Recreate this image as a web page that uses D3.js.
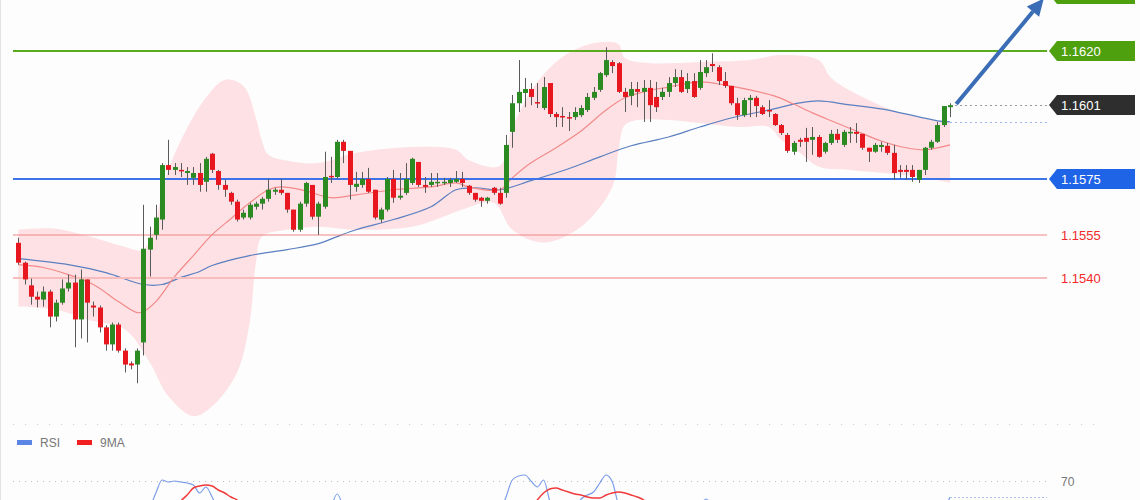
<!DOCTYPE html>
<html>
<head>
<meta charset="utf-8">
<title>EURUSD</title>
<script src="https://d3js.org/d3.v7.min.js"></script>
<style>
  body { margin: 0; background: #fdfdfd; }
  svg { display: block; font-family: "Liberation Sans", Arial, sans-serif; }
</style>
</head>
<body>
<div id="chart"></div>
<script>
// candles, index 0..149
const open = [1.15524,1.15454,1.15374,1.15334,1.15324,1.15352,1.15264,1.15313,1.15363,1.15384,
  1.15254,1.15395,1.15303,1.15296,1.15226,1.15166,1.15236,1.15144,1.15099,1.15095,
  1.15173,1.15500,1.15552,1.15606,1.15798,1.15781,1.15781,1.15770,1.15753,1.15770,
  1.15739,1.15838,1.15777,1.15728,1.15700,1.15669,1.15613,1.15613,1.15651,1.15662,
  1.15679,1.15704,1.15711,1.15700,1.15641,1.15570,1.15662,1.15728,1.15616,1.15651,
  1.15760,1.15756,1.15880,1.15848,1.15721,1.15728,1.15749,1.15711,1.15606,1.15641,
  1.15749,1.15683,1.15700,1.15735,1.15809,1.15728,1.15728,1.15735,1.15735,1.15735,
  1.15739,1.15749,1.15725,1.15700,1.15683,1.15672,1.15718,1.15700,1.15700,1.15915,
  1.16016,1.16052,1.16066,1.16020,1.15999,1.16087,1.15978,1.15971,1.15967,1.15967,
  1.15974,1.15992,1.16035,1.16063,1.16115,1.16161,1.16157,1.16056,1.16042,1.16066,
  1.16056,1.16070,1.16038,1.16038,1.16056,1.16087,1.16108,1.16066,1.16094,1.16070,
  1.16122,1.16154,1.16143,1.16094,1.16077,1.16016,1.15974,1.16027,1.16035,1.16002,
  1.15992,1.15978,1.15939,1.15904,1.15845,1.15887,1.15894,1.15887,1.15897,1.15845,
  1.15876,1.15908,1.15869,1.15911,1.15915,1.15908,1.15859,1.15845,1.15862,1.15866,
  1.15841,1.15781,1.15781,1.15781,1.15746,1.15781,1.15859,1.15880,1.15939,1.16002];
const high = [1.15542,1.15458,1.15398,1.15352,1.15370,1.15359,1.15324,1.15395,1.15412,1.15412,
  1.15430,1.15395,1.15317,1.15303,1.15233,1.15243,1.15243,1.15152,1.15106,1.15152,
  1.15658,1.15581,1.15658,1.15805,1.15887,1.15805,1.15805,1.15791,1.15791,1.15805,
  1.15827,1.15841,1.15781,1.15746,1.15704,1.15676,1.15641,1.15665,1.15669,1.15686,
  1.15749,1.15718,1.15749,1.15700,1.15641,1.15669,1.15739,1.15728,1.15669,1.15845,
  1.15827,1.15887,1.15887,1.15848,1.15774,1.15774,1.15788,1.15711,1.15648,1.15756,
  1.15781,1.15770,1.15805,1.15824,1.15809,1.15756,1.15770,1.15770,1.15753,1.15753,
  1.15777,1.15774,1.15728,1.15700,1.15686,1.15686,1.15721,1.15718,1.15904,1.16045,
  1.16168,1.16105,1.16087,1.16087,1.16108,1.16087,1.15985,1.16002,1.15985,1.16002,
  1.16009,1.16052,1.16073,1.16126,1.16213,1.16168,1.16161,1.16070,1.16091,1.16091,
  1.16098,1.16098,1.16091,1.16070,1.16108,1.16136,1.16133,1.16122,1.16122,1.16168,
  1.16168,1.16192,1.16150,1.16126,1.16077,1.16035,1.16035,1.16045,1.16042,1.16009,
  1.16027,1.15981,1.15943,1.15911,1.15883,1.15894,1.15929,1.15932,1.15904,1.15880,
  1.15922,1.15925,1.15922,1.15932,1.15946,1.15908,1.15859,1.15876,1.15880,1.15876,
  1.15869,1.15798,1.15798,1.15798,1.15781,1.15862,1.15887,1.15950,1.16006,1.16016];
const low = [1.15447,1.15377,1.15306,1.15296,1.15299,1.15226,1.15247,1.15306,1.15352,1.15156,
  1.15187,1.15173,1.15264,1.15208,1.15144,1.15144,1.15137,1.15067,1.15078,1.15029,
  1.15127,1.15405,1.15535,1.15570,1.15763,1.15763,1.15756,1.15728,1.15728,1.15704,
  1.15704,1.15770,1.15711,1.15686,1.15658,1.15599,1.15606,1.15606,1.15641,1.15641,
  1.15669,1.15693,1.15693,1.15630,1.15563,1.15563,1.15651,1.15606,1.15552,1.15644,
  1.15735,1.15749,1.15805,1.15676,1.15704,1.15718,1.15700,1.15606,1.15595,1.15634,
  1.15665,1.15676,1.15693,1.15728,1.15721,1.15700,1.15721,1.15721,1.15728,1.15721,
  1.15735,1.15721,1.15693,1.15669,1.15651,1.15662,1.15693,1.15658,1.15683,1.15859,
  1.15985,1.16002,1.16009,1.15999,1.15992,1.15967,1.15932,1.15932,1.15918,1.15957,
  1.15967,1.15985,1.16027,1.16056,1.16108,1.16122,1.16052,1.15985,1.16009,1.16002,
  1.15950,1.15950,1.15985,1.16027,1.16038,1.16073,1.16052,1.16052,1.16035,1.16063,
  1.16108,1.16126,1.16080,1.16070,1.16009,1.15957,1.15967,1.15967,1.15967,1.15974,
  1.15967,1.15936,1.15904,1.15841,1.15834,1.15862,1.15809,1.15834,1.15824,1.15838,
  1.15869,1.15876,1.15862,1.15876,1.15876,1.15852,1.15809,1.15841,1.15845,1.15834,
  1.15746,1.15753,1.15746,1.15739,1.15735,1.15763,1.15852,1.15876,1.15932,1.15967];
const close = [1.15454,1.15395,1.15334,1.15324,1.15352,1.15264,1.15313,1.15363,1.15384,1.15254,
  1.15395,1.15313,1.15296,1.15226,1.15166,1.15236,1.15144,1.15095,1.15092,1.15144,
  1.15503,1.15542,1.15613,1.15798,1.15781,1.15791,1.15777,1.15777,1.15770,1.15728,
  1.15820,1.15781,1.15728,1.15711,1.15669,1.15606,1.15630,1.15658,1.15662,1.15679,
  1.15711,1.15711,1.15700,1.15641,1.15570,1.15662,1.15735,1.15616,1.15662,1.15756,
  1.15756,1.15880,1.15848,1.15728,1.15732,1.15749,1.15704,1.15613,1.15641,1.15749,
  1.15683,1.15690,1.15749,1.15820,1.15728,1.15721,1.15739,1.15739,1.15739,1.15746,
  1.15749,1.15735,1.15700,1.15676,1.15672,1.15683,1.15700,1.15662,1.15869,1.16016,
  1.16056,1.16066,1.16038,1.16016,1.16073,1.15978,1.15967,1.15967,1.15964,1.15985,
  1.15999,1.16038,1.16056,1.16122,1.16168,1.16147,1.16056,1.16038,1.16066,1.16056,
  1.16070,1.16009,1.16002,1.16056,1.16087,1.16108,1.16056,1.16094,1.16038,1.16126,
  1.16143,1.16147,1.16094,1.16077,1.16016,1.15974,1.16027,1.16035,1.16006,1.15978,
  1.15988,1.15939,1.15911,1.15848,1.15876,1.15880,1.15880,1.15897,1.15827,1.15876,
  1.15908,1.15887,1.15915,1.15915,1.15908,1.15859,1.15845,1.15869,1.15869,1.15841,
  1.15770,1.15774,1.15774,1.15756,1.15781,1.15859,1.15880,1.15939,1.16006,1.16009];

// bollinger band edges and moving averages, sampled as [candle index, price]
const bandUpper = [[0,1.15570],[6,1.15574],[11,1.15549],[17,1.15510],[20,1.15500],[23,1.15693],
  [24,1.15781],[27,1.15929],[30,1.16035],[33,1.16098],[36,1.16077],[38,1.15964],[39,1.15880],
  [40,1.15834],[43,1.15813],[48,1.15805],[54,1.15841],[63,1.15862],[70,1.15852],[72,1.15816],
  [77,1.15795],[79,1.15929],[83,1.16091],[88,1.16193],[93,1.16231],[96,1.16224],[97,1.16175],
  [101,1.16157],[109,1.16161],[117,1.16168],[122,1.16186],[128,1.16168],[130,1.16105],
  [136,1.16027],[141,1.15982],[146,1.15957],[149,1.15946]];
const bandLower = [[0,1.15300],[6,1.15289],[11,1.15254],[17,1.15219],[21,1.15103],[24,1.14983],
  [28,1.14913],[31,1.14948],[35,1.15068],[37,1.15243],[38,1.15454],[39,1.15546],[43,1.15570],
  [48,1.15581],[54,1.15570],[63,1.15581],[68,1.15616],[71,1.15641],[76,1.15665],[79,1.15570],
  [84,1.15525],[90,1.15581],[95,1.15721],[96,1.15852],[97,1.15939],[99,1.15957],[104,1.15957],
  [109,1.15946],[115,1.15932],[120,1.15932],[122,1.15887],[125,1.15841],[128,1.15792],
  [133,1.15781],[138,1.15771],[144,1.15757],[149,1.15736]];
const maFast = [[0,1.15447],[4,1.15437],[8,1.15412],[12,1.15377],[16,1.15317],[19,1.15278],
  [20,1.15282],[22,1.15317],[25,1.15405],[28,1.15479],[31,1.15553],[34,1.15609],[37,1.15665],
  [40,1.15711],[42,1.15721],[46,1.15707],[50,1.15683],[54,1.15693],[60,1.15711],[66,1.15721],
  [70,1.15735],[72,1.15721],[77,1.15711],[79,1.15753],[82,1.15806],[86,1.15859],[90,1.15918],
  [94,1.15992],[97,1.16035],[100,1.16056],[104,1.16073],[109,1.16091],[113,1.16080],
  [117,1.16063],[121,1.16041],[124,1.16013],[127,1.15982],[130,1.15954],[134,1.15918],
  [138,1.15883],[142,1.15859],[145,1.15852],[149,1.15869]];
const maSlow = [[0,1.15468],[8,1.15447],[14,1.15419],[20,1.15377],[23,1.15377],[26,1.15402],
  [29,1.15423],[31,1.15444],[37,1.15479],[43,1.15500],[48,1.15521],[51,1.15546],[54,1.15570],
  [60,1.15606],[66,1.15651],[70,1.15711],[73,1.15718],[77,1.15711],[82,1.15743],[88,1.15785],
  [93,1.15827],[98,1.15866],[104,1.15897],[109,1.15932],[114,1.15964],[120,1.15992],
  [125,1.16017],[128,1.16024],[133,1.16010],[138,1.15996],[144,1.15968],[147,1.15954],[149,1.15950]];

// support / resistance levels (the first one sits above the visible area)
const levelPrices = [1.1640, 1.1620, 1.1575, 1.1555, 1.1540];
const levelLabels = ["", "1.1620", "1.1575", "1.1555", "1.1540"];
const lastPrice = 1.16009;
const lastLabel = "1.1601";
const arrowFrom = [150, 1.16013];
const arrowTo = [164, 1.16385];

// RSI panel, visible parts only: [candle index, value]
const rsiParts = [
  [[21,56],[22,64],[23,70.5],[24,69.5],[25,70],[26,69.5],[27,69],[28,68],[29,64],[30,67],[31,62],[32,55]],
  [[50,56],[51,63.5],[52,56]],
  [[77,54],[78,62],[79,70.5],[80,72.5],[81,73],[82,70],[83,67],[84,70.5],[85,60],[86,54]],
  [[89,56],[90,61],[91,63],[92,64.5],[93,69],[94,73],[95,69.5],[96,58],[97,54]],
  [[109,57],[110,61],[111,57]],
  [[148,55],[149,62]]
];
const rsiMaParts = [
  [[25,56],[26,60],[27,63],[28,66.5],[29,67.5],[30,68],[31,67.5],[32,65.5],[33,64],[34,62],[35,60.5],[36,57]],
  [[82,56],[83,60.5],[84,64],[85,66],[86,66.5],[87,65.5],[88,64.5],[89,63.5],[90,63],[91,62],
   [92,61.5],[93,61.5],[94,63],[95,64],[96,64.5],[97,64],[98,63],[99,62],[100,60.5],[101,57]]
];
const rsiLevel = 70;

const width = 1140, height = 500;

const svg = d3.select("#chart").append("svg")
  .attr("width", width).attr("height", height);

svg.append("rect").attr("width", width).attr("height", height).attr("fill", "#fdfdfd");
svg.append("line").attr("x1", 0.5).attr("x2", 0.5).attr("y1", 0).attr("y2", height)
  .attr("stroke", "#e2e2e2");

const x = d3.scaleLinear().domain([0, 149]).range([18.3, 950]);
const y = d3.scaleLinear().domain([1.1540, 1.1620]).range([278, 51]);
const yr = d3.scaleLinear().domain([30, 70]).range([561, 481]);

const lineLeft = 13, lineRight = 1047, boxRight = 1135;

// band
const edge = d3.line().x(d => x(d[0])).y(d => y(d[1])).curve(d3.curveCatmullRom);
const up = edge(bandUpper);
const lo = edge(bandLower.slice().reverse());
svg.append("path")
  .attr("d", up + "L" + lo.slice(1) + "Z")
  .attr("fill", "#fde1e4");

// moving averages
svg.append("path").attr("d", edge(maSlow)).attr("fill", "none")
  .attr("stroke", "#5b7fc0").attr("stroke-width", 1.2);
svg.append("path").attr("d", edge(maFast)).attr("fill", "none")
  .attr("stroke", "#f28a8a").attr("stroke-width", 1.2);

// level lines
const levelStyle = [
  { line: null, box: "#4fa00f" },
  { line: "#5aab1e", w: 2, box: "#4fa00f" },
  { line: "#3d74ea", w: 2, box: "#1f63e6" },
  { line: "#f08686", w: 1, text: "#f02a2a" },
  { line: "#f8bcbc", w: 2, text: "#f02a2a" }
];

function tag(cy, fill, label) {
  const g = svg.append("g");
  const x0 = lineRight + 2;
  g.append("polygon")
    .attr("points", [[x0, cy], [x0 + 8, cy - 10], [boxRight, cy - 10], [boxRight, cy + 10], [x0 + 8, cy + 10]]
      .map(p => p.join(",")).join(" "))
    .attr("fill", fill);
  if (label) {
    g.append("text").attr("x", 1061).attr("y", cy + 5)
      .attr("fill", "#fff").attr("font-size", 13).text(label);
  }
}

levelPrices.forEach((p, i) => {
  const st = levelStyle[i];
  const cy = Math.round(y(p));
  if (st.line) {
    svg.append("line").attr("x1", lineLeft).attr("x2", lineRight)
      .attr("y1", cy).attr("y2", cy)
      .attr("stroke", st.line).attr("stroke-width", st.w);
  }
  if (st.box) tag(cy, st.box, levelLabels[i]);
  if (st.text) {
    svg.append("text").attr("x", 1061).attr("y", cy + 5)
      .attr("fill", st.text).attr("font-size", 13).text(levelLabels[i]);
  }
});

// last price and slow MA markers
const lastY = Math.round(y(lastPrice)) + 0.5;
svg.append("line").attr("x1", x(149) + 5).attr("x2", lineRight).attr("y1", lastY).attr("y2", lastY)
  .attr("stroke", "#9a9a9a").attr("stroke-dasharray", "2,3");
const maY = Math.round(y(maSlow[maSlow.length - 1][1])) + 0.5;
svg.append("line").attr("x1", x(149)).attr("x2", lineRight).attr("y1", maY).attr("y2", maY)
  .attr("stroke", "#9fb8ec").attr("stroke-dasharray", "2,3");
tag(Math.round(y(lastPrice)), "#2e2e2e", lastLabel);

// candles
const idx = d3.range(open.length);
const cx = i => Math.round(x(i));
svg.append("g").selectAll("line").data(idx).join("line")
  .attr("x1", i => cx(i) + 0.5).attr("x2", i => cx(i) + 0.5)
  .attr("y1", i => y(high[i])).attr("y2", i => y(low[i]))
  .attr("stroke", "#5a5a5a").attr("stroke-width", 1);
svg.append("g").selectAll("rect").data(idx).join("rect")
  .attr("x", i => cx(i) - 2)
  .attr("width", 5)
  .attr("y", i => y(Math.max(open[i], close[i])))
  .attr("height", i => Math.max(1.5, Math.abs(y(open[i]) - y(close[i]))))
  .attr("fill", i => close[i] >= open[i] ? "#2b8a22" : "#e8161e");

// arrow
const ax1 = x(arrowFrom[0]), ay1 = y(arrowFrom[1]);
const ax2 = x(arrowTo[0]), ay2 = y(arrowTo[1]);
const ang = Math.atan2(ay2 - ay1, ax2 - ax1);
const headLen = 17, headW = 8;
const bx = ax2 - headLen * Math.cos(ang), by = ay2 - headLen * Math.sin(ang);
svg.append("line").attr("x1", ax1).attr("y1", ay1).attr("x2", bx).attr("y2", by)
  .attr("stroke", "#3a6db5").attr("stroke-width", 4);
svg.append("polygon")
  .attr("points", [[ax2, ay2],
    [bx + headW * Math.sin(ang), by - headW * Math.cos(ang)],
    [bx - headW * Math.sin(ang), by + headW * Math.cos(ang)]].map(p => p.join(",")).join(" "))
  .attr("fill", "#3a6db5");

// RSI panel
svg.append("line").attr("x1", 13).attr("x2", 1100).attr("y1", 424.5).attr("y2", 424.5)
  .attr("stroke", "#cfcfcf").attr("stroke-dasharray", "1,11");

const legend = svg.append("g").attr("font-size", 12).attr("fill", "#777");
[["RSI", "#5b86e6", 17], ["9MA", "#f02020", 77]].forEach(([name, col, lx]) => {
  legend.append("rect").attr("x", lx).attr("y", 440).attr("width", 15).attr("height", 5).attr("fill", col);
  legend.append("text").attr("x", lx + 23).attr("y", 447).text(name);
});

const r70 = Math.round(yr(rsiLevel)) + 0.5;
svg.append("line").attr("x1", 13).attr("x2", lineRight).attr("y1", r70).attr("y2", r70)
  .attr("stroke", "#bdbdbd").attr("stroke-dasharray", "1,5");
svg.append("text").attr("x", 1061).attr("y", r70 + 4).attr("font-size", 12)
  .attr("fill", "#777").text(rsiLevel);

const rline = d3.line().x(d => x(d[0])).y(d => yr(d[1])).curve(d3.curveMonotoneX);
rsiParts.forEach(part => {
  svg.append("path").attr("d", rline(part)).attr("fill", "none")
    .attr("stroke", "#7d9ee8").attr("stroke-width", 1.2);
});
rsiMaParts.forEach(part => {
  svg.append("path").attr("d", rline(part)).attr("fill", "none")
    .attr("stroke", "#f03a3a").attr("stroke-width", 1.5);
});
const lastRsi = rsiParts[rsiParts.length - 1];
const lrY = Math.round(yr(lastRsi[lastRsi.length - 1][1])) + 0.5;
svg.append("line").attr("x1", x(149)).attr("x2", lineRight).attr("y1", lrY).attr("y2", lrY)
  .attr("stroke", "#a9bff0").attr("stroke-dasharray", "2,2");
</script>
</body>
</html>
